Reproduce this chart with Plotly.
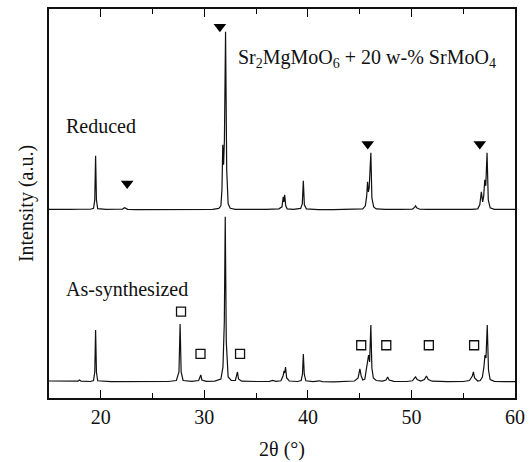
import plotly.graph_objects as go

# ---- data (2theta in degrees, intensity in arbitrary units above each baseline) ----
reduced_x = [15.0, 16.0, 17.0, 18.0, 19.0,
             19.3, 19.42, 19.5, 19.58, 19.7,
             20.5, 21.5, 22.1, 22.3, 22.45, 22.6, 23.5, 25.0, 26.5, 28.0, 29.5, 30.8,
             31.4, 31.6, 31.7, 31.78, 31.86, 31.94, 32.05, 32.16, 32.3, 32.5, 33.0,
             34.5, 36.0,
             37.2, 37.5, 37.62, 37.68, 37.76, 37.86, 38.0,
             38.6, 39.3, 39.46, 39.56, 39.66, 39.85,
             41.0, 42.5, 44.0,
             45.3, 45.55, 45.68, 45.76, 45.84, 45.92, 46.0, 46.08, 46.18, 46.35, 46.6,
             47.5, 49.0,
             50.1, 50.3, 50.4, 50.5, 50.8,
             51.5, 53.0, 54.5, 55.8,
             56.4, 56.6, 56.75, 56.88, 56.98, 57.08, 57.18, 57.3, 57.42, 57.6, 58.0,
             59.0, 60.0]
reduced_y = [0.5, 0.8, 0.4, 0.6, 0.6,
             1.5, 10.0, 54.0, 10.0, 1.2,
             0.5, 0.6, 0.8, 2.2, 0.9, 0.5, 0.3, 0.2, 0.3, 0.2, 0.3, 0.5,
             1.5, 4.0, 20.0, 65.0, 45.0, 70.0, 178.0, 40.0, 6.0, 1.5, 0.4,
             0.3, 0.5,
             1.0, 3.0, 13.0, 8.0, 15.0, 4.0, 1.0,
             0.5, 1.5, 6.0, 29.0, 5.0, 1.0,
             0.3, 0.3, 0.5,
             1.0, 4.0, 14.0, 28.0, 18.0, 22.0, 35.0, 57.0, 12.0, 3.0, 1.0,
             0.4, 0.4,
             0.8, 2.5, 4.0, 2.0, 0.6,
             0.4, 0.3, 0.4, 0.5,
             1.0, 5.0, 18.0, 8.0, 14.0, 30.0, 24.0, 57.0, 10.0, 2.0, 0.5,
             0.4, 0.4]

assyn_x = [15.0, 16.0, 17.0, 17.8, 17.95, 18.1, 19.0,
           19.3, 19.42, 19.5, 19.58, 19.7,
           21.0, 23.0, 25.0, 26.5,
           27.3, 27.55, 27.66, 27.76, 27.95,
           28.8, 29.45, 29.58, 29.66, 29.76, 30.2,
           31.0, 31.6, 31.8, 31.93, 32.02, 32.12, 32.3, 32.6,
           33.0, 33.12, 33.2, 33.3, 33.6,
           35.0, 36.3, 36.6, 36.9,
           37.4, 37.6, 37.7, 37.76, 37.84, 37.95, 38.2,
           39.0, 39.35, 39.48, 39.56, 39.65, 39.8,
           40.5, 41.1, 41.4, 42.5, 43.6, 43.9,
           44.5, 44.85, 45.02, 45.15, 45.3,
           45.5, 45.7, 45.86, 45.96, 46.08, 46.18, 46.32, 46.6,
           47.2, 47.55, 47.7, 47.85, 48.3,
           49.5, 50.1, 50.3, 50.4, 50.55, 50.9,
           51.25, 51.45, 51.62, 52.0,
           53.5, 55.0, 55.6, 55.88, 55.98, 56.1, 56.4,
           56.65, 56.85, 57.0, 57.1, 57.2, 57.32, 57.44, 57.6, 58.0,
           59.0, 60.0]
assyn_y = [1.0, 0.8, 0.6, 0.8, 2.0, 0.8, 0.5,
           1.5, 10.0, 52.0, 10.0, 1.2,
           0.4, 0.5, 0.3, 0.5,
           1.5, 10.0, 58.0, 10.0, 1.5,
           0.6, 1.5, 5.0, 7.0, 2.0, 0.6,
           0.8, 3.0, 15.0, 60.0, 165.0, 40.0, 5.0, 1.5,
           1.5, 6.0, 10.0, 3.0, 0.8,
           0.5, 0.6, 1.5, 0.6,
           1.2, 6.0, 11.0, 9.0, 15.0, 4.0, 1.0,
           0.5, 1.5, 8.0, 28.0, 8.0, 1.2,
           0.3, 1.2, 0.3, 0.2, 0.4, 1.2,
           1.0, 4.0, 13.0, 6.0, 2.0,
           3.0, 15.0, 27.0, 20.0, 57.0, 14.0, 4.0, 1.5,
           0.8, 2.0, 5.0, 2.0, 0.6,
           0.5, 1.2, 4.0, 5.0, 2.5, 1.0,
           2.5, 6.0, 2.5, 0.8,
           0.4, 0.5, 1.5, 6.0, 10.0, 4.0, 1.0,
           1.5, 5.0, 15.0, 27.0, 24.0, 57.0, 12.0, 2.5, 0.6,
           0.4, 0.4]

assyn_offset = 16.0
reduced_offset = 188.0

# phase markers: filled triangles (Sr2MgMoO6 reflections), open squares (SrMoO4)
triangle_x = [22.55, 31.5, 45.78, 56.6]
triangle_y = [214.4, 371.0, 253.7, 253.7]
square_x = [27.75, 29.63, 33.45, 45.15, 47.57, 51.68, 56.05]
square_y = [86.4, 44.0, 44.0, 52.7, 52.7, 52.7, 52.7]

x_ticks = [20, 30, 40, 50, 60]
x_minor_ticks = [25, 35, 45, 55]
x_range = [15, 60]
y_range = [0, 388.7]

assert len(reduced_x) == len(reduced_y)
assert len(assyn_x) == len(assyn_y)

FONT = "Liberation Serif"
INK = "#111111"

fig = go.Figure()
fig.add_trace(go.Scatter(x=assyn_x, y=[v + assyn_offset for v in assyn_y],
                         mode="lines", line=dict(color=INK, width=1.2),
                         name="As-synthesized", showlegend=False))
fig.add_trace(go.Scatter(x=reduced_x, y=[v + reduced_offset for v in reduced_y],
                         mode="lines", line=dict(color=INK, width=1.2),
                         name="Reduced", showlegend=False))
fig.add_trace(go.Scatter(x=triangle_x, y=triangle_y, mode="markers",
                         marker=dict(symbol="triangle-down", size=11, color="black"),
                         showlegend=False))
# squares are drawn against the top (mirror) x axis, which shares the bottom range
fig.add_trace(go.Scatter(x=square_x, y=square_y, mode="markers", xaxis="x2",
                         marker=dict(symbol="square-open", size=9, color=INK,
                                     line=dict(width=1.3)),
                         showlegend=False))

fig.add_annotation(x=16.4, y=271.7, xref="x", yref="y", text="Reduced",
                   showarrow=False, xanchor="left", yanchor="middle",
                   font=dict(family=FONT, size=20, color=INK))
fig.add_annotation(x=16.4, y=108.4, xref="x", yref="y", text="As-synthesized",
                   showarrow=False, xanchor="left", yanchor="middle",
                   font=dict(family=FONT, size=20, color=INK))
fig.add_annotation(x=33.1, y=339.7, xref="x", yref="y",
                   text="Sr<sub>2</sub>MgMoO<sub>6</sub> + 20 w-% SrMoO<sub>4</sub>",
                   showarrow=False, xanchor="left", yanchor="middle",
                   font=dict(family=FONT, size=20, color=INK))

tick_style = dict(ticks="inside", ticklen=8, tickwidth=1.4, tickcolor="black",
                  showgrid=False, zeroline=False,
                  minor=dict(tickvals=x_minor_ticks, ticks="inside", ticklen=5,
                             tickwidth=1.4, tickcolor="black", showgrid=False))

fig.update_layout(
    width=532, height=462,
    margin=dict(l=49, r=17, t=9, b=64, autoexpand=False),
    paper_bgcolor="white", plot_bgcolor="white",
    font=dict(family=FONT, size=20, color=INK),
    xaxis=dict(range=x_range, tickvals=x_ticks, showline=True, linecolor=INK,
               linewidth=1.5, mirror=False,
               tickfont=dict(family=FONT, size=20, color=INK),
               title=dict(text="2θ (°)", font=dict(family=FONT, size=20, color=INK),
                          standoff=15),
               **tick_style),
    xaxis2=dict(range=x_range, tickvals=x_ticks, overlaying="x", side="top",
                anchor="y", showticklabels=False, showline=True, linecolor=INK,
                linewidth=1.5, **tick_style),
    yaxis=dict(range=y_range, showticklabels=False, ticks="", showline=True,
               linecolor=INK, linewidth=1.5, mirror=True, showgrid=False,
               zeroline=False,
               title=dict(text="Intensity (a.u.)",
                          font=dict(family=FONT, size=20, color=INK), standoff=8)),
)

fig.write_html("out.html", config={"displayModeBar": False},
               post_script="document.body.style.margin='0';document.body.style.padding='0';")
